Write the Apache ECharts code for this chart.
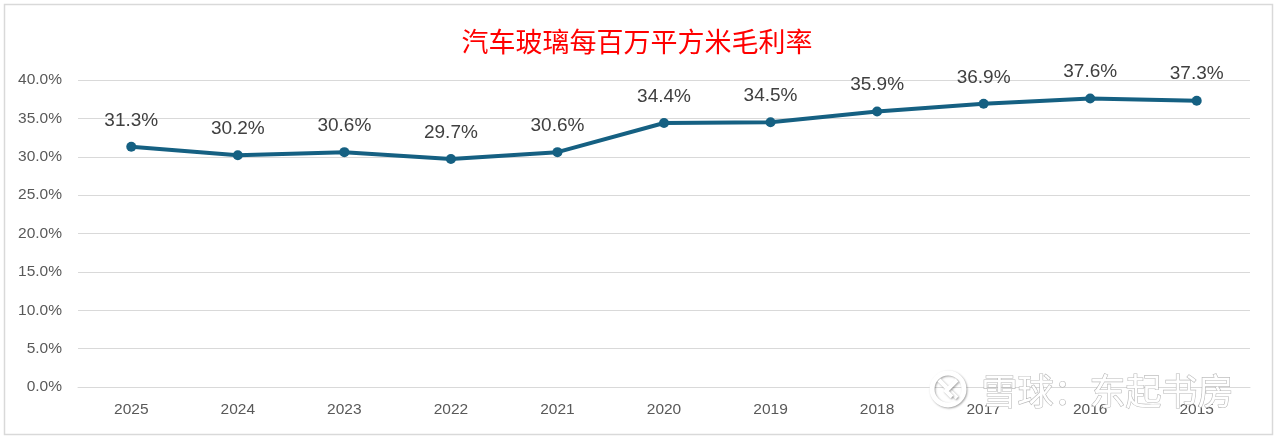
<!DOCTYPE html>
<html>
<head>
<meta charset="utf-8">
<script src="https://cdn.jsdelivr.net/npm/echarts@6/dist/echarts.min.js"></script>
<style>
html,body{margin:0;padding:0;background:#fff;}
#chart{width:1274px;height:436px;}
</style>
</head>
<body>
<div id="chart"></div>
<script>
var titleText = '汽车玻璃每百万平方米毛利率';
var years = ['2025','2024','2023','2022','2021','2020','2019','2018','2017','2016','2015'];
var margins = [31.3, 30.2, 30.6, 29.7, 30.6, 34.4, 34.5, 35.9, 36.9, 37.6, 37.3];
var watermarkText = '雪球：东起书房';

var wmStyle = {
  fill: '#ffffff',
  stroke: 'rgba(160,160,160,0.75)',
  lineWidth: 1.2,
  shadowColor: 'rgba(0,0,0,0.25)',
  shadowBlur: 2,
  shadowOffsetX: 1,
  shadowOffsetY: 1
};

var chart = echarts.init(document.getElementById('chart'), null, {renderer: 'canvas'});
chart.setOption({
  backgroundColor: '#fff',
  animation: false,
  title: {
    text: titleText,
    left: 'center',
    top: 23,
    textStyle: {
      color: '#ff0000',
      fontSize: 27,
      fontWeight: 'normal',
      fontFamily: '"Noto Sans CJK SC", sans-serif'
    }
  },
  graphic: [
    {
      type: 'rect',
      left: 2, top: 2,
      shape: {width: 1268, height: 430},
      style: {fill: 'none', stroke: '#d9d9d9', lineWidth: 1.5},
      silent: true
    },
    {
      type: 'circle',
      z: 100,
      shape: {cx: 948, cy: 389, r: 16},
      style: {fill: 'none', stroke: '#ffffff', lineWidth: 5, shadowColor: 'rgba(0,0,0,0.35)', shadowBlur: 2, shadowOffsetX: 1, shadowOffsetY: 1},
      silent: true
    },
    {
      type: 'polyline',
      z: 100,
      shape: {points: [[939, 380], [957, 398]]},
      style: {stroke: '#ffffff', lineWidth: 4, shadowColor: 'rgba(0,0,0,0.35)', shadowBlur: 2, shadowOffsetX: 1, shadowOffsetY: 1},
      silent: true
    },
    {
      type: 'polyline',
      z: 100,
      shape: {points: [[957, 380], [946, 391], [952, 397]]},
      style: {fill: 'none', stroke: '#ffffff', lineWidth: 4, shadowColor: 'rgba(0,0,0,0.35)', shadowBlur: 2, shadowOffsetX: 1, shadowOffsetY: 1},
      silent: true
    },
    {
      type: 'text',
      left: 981, top: 373,
      z: 100,
      style: Object.assign({
        text: watermarkText,
        fontSize: 36,
        fontFamily: '"Noto Sans CJK SC", sans-serif'
      }, wmStyle),
      silent: true
    }
  ],
  grid: {left: 78, right: 24, top: 80, bottom: 49},
  xAxis: {
    type: 'category',
    data: years,
    boundaryGap: true,
    axisLine: {show: true, lineStyle: {color: '#d9d9d9', width: 1}},
    axisTick: {show: false},
    axisLabel: {color: '#595959', fontSize: 15.5, margin: 15, fontFamily: '"Liberation Sans", Arial, sans-serif'}
  },
  yAxis: {
    type: 'value',
    min: 0, max: 40, interval: 5,
    axisLine: {show: false},
    axisTick: {show: false},
    splitLine: {lineStyle: {color: '#d9d9d9', width: 1}},
    axisLabel: {
      color: '#595959', fontSize: 15.5, margin: 16,
      fontFamily: '"Liberation Sans", Arial, sans-serif',
      formatter: function(v){ return v.toFixed(1) + '%'; }
    }
  },
  series: [{
    type: 'line',
    data: margins,
    symbol: 'circle',
    symbolSize: 10,
    lineStyle: {color: '#156082', width: 4},
    itemStyle: {color: '#156082'},
    label: {
      show: true,
      position: 'top',
      distance: 12,
      color: '#404040',
      fontSize: 19,
      fontFamily: '"Liberation Sans", Arial, sans-serif',
      formatter: function(p){ return p.value.toFixed(1) + '%'; }
    }
  }]
});
</script>
</body>
</html>
